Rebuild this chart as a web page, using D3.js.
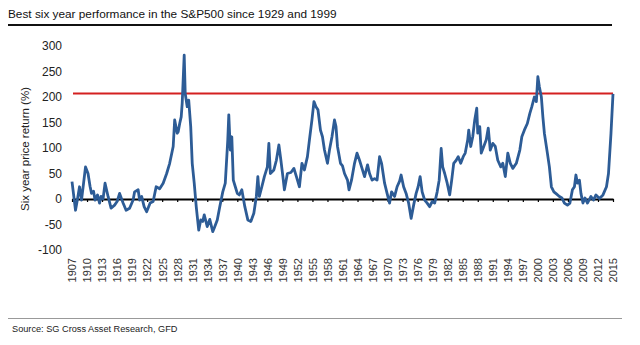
<!DOCTYPE html>
<html>
<head>
<meta charset="utf-8">
<script src="https://cdn.jsdelivr.net/npm/d3@7"></script>
<style>
    body { margin: 0; background: #fff; }
    text { font-family: "Liberation Sans", Arial, sans-serif; }
</style>
</head>
<body>
<div id="chart"></div>
<script>
// data (year, six year price return %)
const years = [
    1907.0, 1907.3, 1907.7, 1908.1, 1908.5, 1908.9, 1909.3, 1909.7, 1910.2, 1910.6,
    1910.9, 1911.3, 1911.6, 1912.1, 1912.5, 1912.8, 1913.2, 1913.6, 1914.2, 1914.8,
    1915.5, 1916.0, 1916.5, 1917.2, 1917.8, 1918.5, 1919.2, 1919.5, 1920.2, 1920.5,
    1920.9, 1921.4, 1921.9, 1922.6, 1923.2, 1923.8, 1924.5, 1925.2, 1925.9, 1926.5,
    1927.2, 1927.5, 1928.0, 1928.2, 1928.5, 1928.8, 1929.0, 1929.4, 1929.6, 1930.0,
    1930.3, 1930.7, 1931.0, 1931.4, 1931.8, 1932.3, 1932.7, 1933.1, 1933.4, 1934.0,
    1934.5, 1935.1, 1935.4, 1936.0, 1936.5, 1937.1, 1937.6, 1938.1, 1938.3, 1938.6,
    1938.9, 1939.2, 1939.6, 1940.0, 1940.4, 1940.9, 1941.5, 1942.1, 1942.7, 1943.3,
    1943.8, 1944.1, 1944.4, 1944.9, 1945.4, 1946.0, 1946.3, 1946.6, 1947.3, 1947.8,
    1948.3, 1948.7, 1949.1, 1949.4, 1950.0, 1950.7, 1951.3, 1951.8, 1952.4, 1952.9,
    1953.4, 1954.0, 1954.4, 1954.9, 1955.3, 1955.7, 1956.1, 1956.6, 1957.0, 1957.4,
    1958.0, 1958.4, 1958.9, 1959.4, 1959.7, 1960.0, 1960.6, 1961.0, 1961.4, 1962.0,
    1962.3, 1962.8, 1963.4, 1963.9, 1964.4, 1964.9, 1965.4, 1966.0, 1966.4, 1966.9,
    1967.4, 1967.9, 1968.4, 1968.8, 1969.4, 1969.9, 1970.4, 1970.8, 1971.4, 1971.9,
    1972.4, 1972.7, 1973.2, 1973.7, 1974.2, 1974.7, 1975.2, 1975.7, 1976.1, 1976.5,
    1976.9, 1977.4, 1977.9, 1978.4, 1978.9, 1979.4, 1979.9, 1980.3, 1980.7, 1981.0,
    1981.4, 1981.9, 1982.4, 1982.8, 1983.2, 1983.7, 1984.1, 1984.6, 1985.1, 1985.5,
    1986.0, 1986.2, 1986.6, 1987.0, 1987.4, 1987.8, 1988.0, 1988.4, 1988.7, 1989.2,
    1989.7, 1990.1, 1990.5, 1991.0, 1991.5, 1992.0, 1992.6, 1993.0, 1993.5, 1994.0,
    1994.5, 1995.0, 1995.7, 1996.4, 1996.8, 1997.3, 1997.9, 1998.4, 1998.8, 1999.3,
    1999.7, 2000.0, 2000.3, 2000.7, 2001.0, 2001.3, 2001.9, 2002.3, 2002.7, 2003.2,
    2003.7, 2004.3, 2004.8, 2005.3, 2005.9, 2006.4, 2006.9, 2007.3, 2007.6, 2007.9,
    2008.3, 2008.6, 2009.0, 2009.4, 2009.9, 2010.6, 2011.1, 2011.6, 2012.3, 2013.0,
    2013.7, 2014.1, 2014.6, 2015.0
];
const returns = [
    34, 10, -22, 0, 24, -2, 30, 63, 50, 25,
    11, 15, -2, 8, -8, 5, 0, 31, 5, -18,
    -12, -5, 11, -8, -22, -18, -2, 14, 18, -2,
    5, -15, -25, -8, -5, 24, 20, 31, 50, 70,
    103, 155, 129, 132, 148, 161, 188, 282, 207, 181,
    194, 142, 70, 31, -15, -61, -41, -44, -31, -54,
    -40, -64, -57, -41, -15, 14, 31, 116, 165, 96,
    122, 37, 24, 11, 8, 18, -15, -41, -44, -28,
    5, 44, 5, 24, 44, 63, 109, 50, 57, 76,
    106, 76, 44, 18, 50, 52, 60, 44, 24, 70,
    57, 83, 116, 155, 191, 181, 175, 135, 122, 96,
    70, 96, 122, 155, 142, 103, 70, 65, 50, 37,
    18, 37, 70, 90, 76, 60, 44, 67, 50, 37,
    40, 37, 83, 70, 31, 11, -8, 14, 5, 24,
    35, 47, 24, 11, -8, -38, -12, 11, 24, 44,
    14, -2, -8, -15, -5, -8, 14, 37, 99, 63,
    50, 31, 8, 37, 70, 76, 83, 70, 83, 90,
    116, 135, 103, 122, 155, 178, 129, 142, 90, 103,
    116, 139, 96, 109, 103, 76, 63, 70, 44, 90,
    70, 60, 70, 96, 122, 135, 148, 168, 181, 200,
    191, 240, 220, 200, 161, 129, 90, 63, 24, 14,
    10, 5, 2, -8, -12, -8, 18, 24, 47, 31,
    37, 11, -8, 2, -8, 5, -2, 8, 1, 8,
    24, 50, 129, 206
];
const threshold = 207;
const yTicks = [-100, -50, 0, 50, 100, 150, 200, 250, 300];
const tickYears = d3.range(1907, 2016, 3);

const title = "Best six year performance in the S&P500 since 1929 and 1999";
const yLabel = "Six year price return (%)";
const source = "Source: SG Cross Asset Research, GFD";

const wSvg = 640;
const hSvg = 345;

const svg = d3.select("#chart")
    .append("svg")
    .attr("width", wSvg)
    .attr("height", hSvg);

svg.append("rect").attr("width", wSvg).attr("height", hSvg).attr("fill", "#fff");

// Header
svg.append("text")
    .attr("x", 8)
    .attr("y", 18)
    .attr("font-size", 11.8)
    .attr("fill", "#111")
    .text(title);

svg.append("line")
    .attr("x1", 8).attr("x2", 612)
    .attr("y1", 25).attr("y2", 25)
    .attr("stroke", "#111")
    .attr("stroke-width", 2.2);

// Scales
const xScale = d3.scaleLinear([1907, 2015], [72, 613]);
const yScale = d3.scaleLinear([-100, 300], [250, 46]);

// Y axis labels
const yAxis = svg.append("g")
    .attr("transform", "translate(62, 0)")
    .call(d3.axisLeft(yScale).tickValues(yTicks).tickSize(0).tickPadding(0)
        .tickFormat(d => String(d)));
yAxis.select(".domain").remove();
yAxis.selectAll("text")
    .attr("font-size", 12)
    .attr("font-family", "Liberation Sans, Arial, sans-serif")
    .attr("fill", "#222");

svg.append("text")
    .attr("transform", "translate(29, 149) rotate(-90)")
    .attr("text-anchor", "middle")
    .attr("font-size", 11.5)
    .attr("fill", "#222")
    .text(yLabel);

// Zero line with small ticks
const zeroAxis = svg.append("g")
    .attr("transform", `translate(0, ${yScale(0)})`)
    .call(d3.axisBottom(xScale).tickValues(tickYears).tickSize(3).tickSizeOuter(0).tickFormat(""));
zeroAxis.select(".domain").attr("stroke", "#000").attr("stroke-width", 2);
zeroAxis.selectAll(".tick line").attr("stroke", "#000").attr("stroke-width", 1.2);

// Year labels
const xLabels = svg.append("g")
    .attr("transform", "translate(0, 255)")
    .call(d3.axisBottom(xScale).tickValues(tickYears).tickSize(0).tickFormat(d => String(d)));
xLabels.select(".domain").remove();
xLabels.selectAll("text")
    .attr("transform", "rotate(-90)")
    .attr("x", -3)
    .attr("y", 0)
    .attr("dy", "0.35em")
    .attr("text-anchor", "end")
    .attr("font-size", 11)
    .attr("font-family", "Liberation Sans, Arial, sans-serif")
    .attr("fill", "#333");

// Red threshold line
svg.append("line")
    .attr("x1", xScale(1907) + 1).attr("x2", xScale(2015))
    .attr("y1", yScale(threshold)).attr("y2", yScale(threshold))
    .attr("stroke", "#d42020")
    .attr("stroke-width", 2);

// Series
const series = years.map((y, i) => ({ year: y, value: returns[i] }));
const line = d3.line()
    .x(d => xScale(d.year))
    .y(d => yScale(d.value));

svg.append("path")
    .datum(series)
    .attr("d", line)
    .attr("fill", "none")
    .attr("stroke", "#2d5c96")
    .attr("stroke-width", 2.8)
    .attr("stroke-linejoin", "round");

// Footer
svg.append("line")
    .attr("x1", 8).attr("x2", 622)
    .attr("y1", 318.5).attr("y2", 318.5)
    .attr("stroke", "#999")
    .attr("stroke-width", 1);

svg.append("text")
    .attr("x", 12)
    .attr("y", 332)
    .attr("font-size", 9.2)
    .attr("fill", "#222")
    .text(source);
</script>
</body>
</html>
